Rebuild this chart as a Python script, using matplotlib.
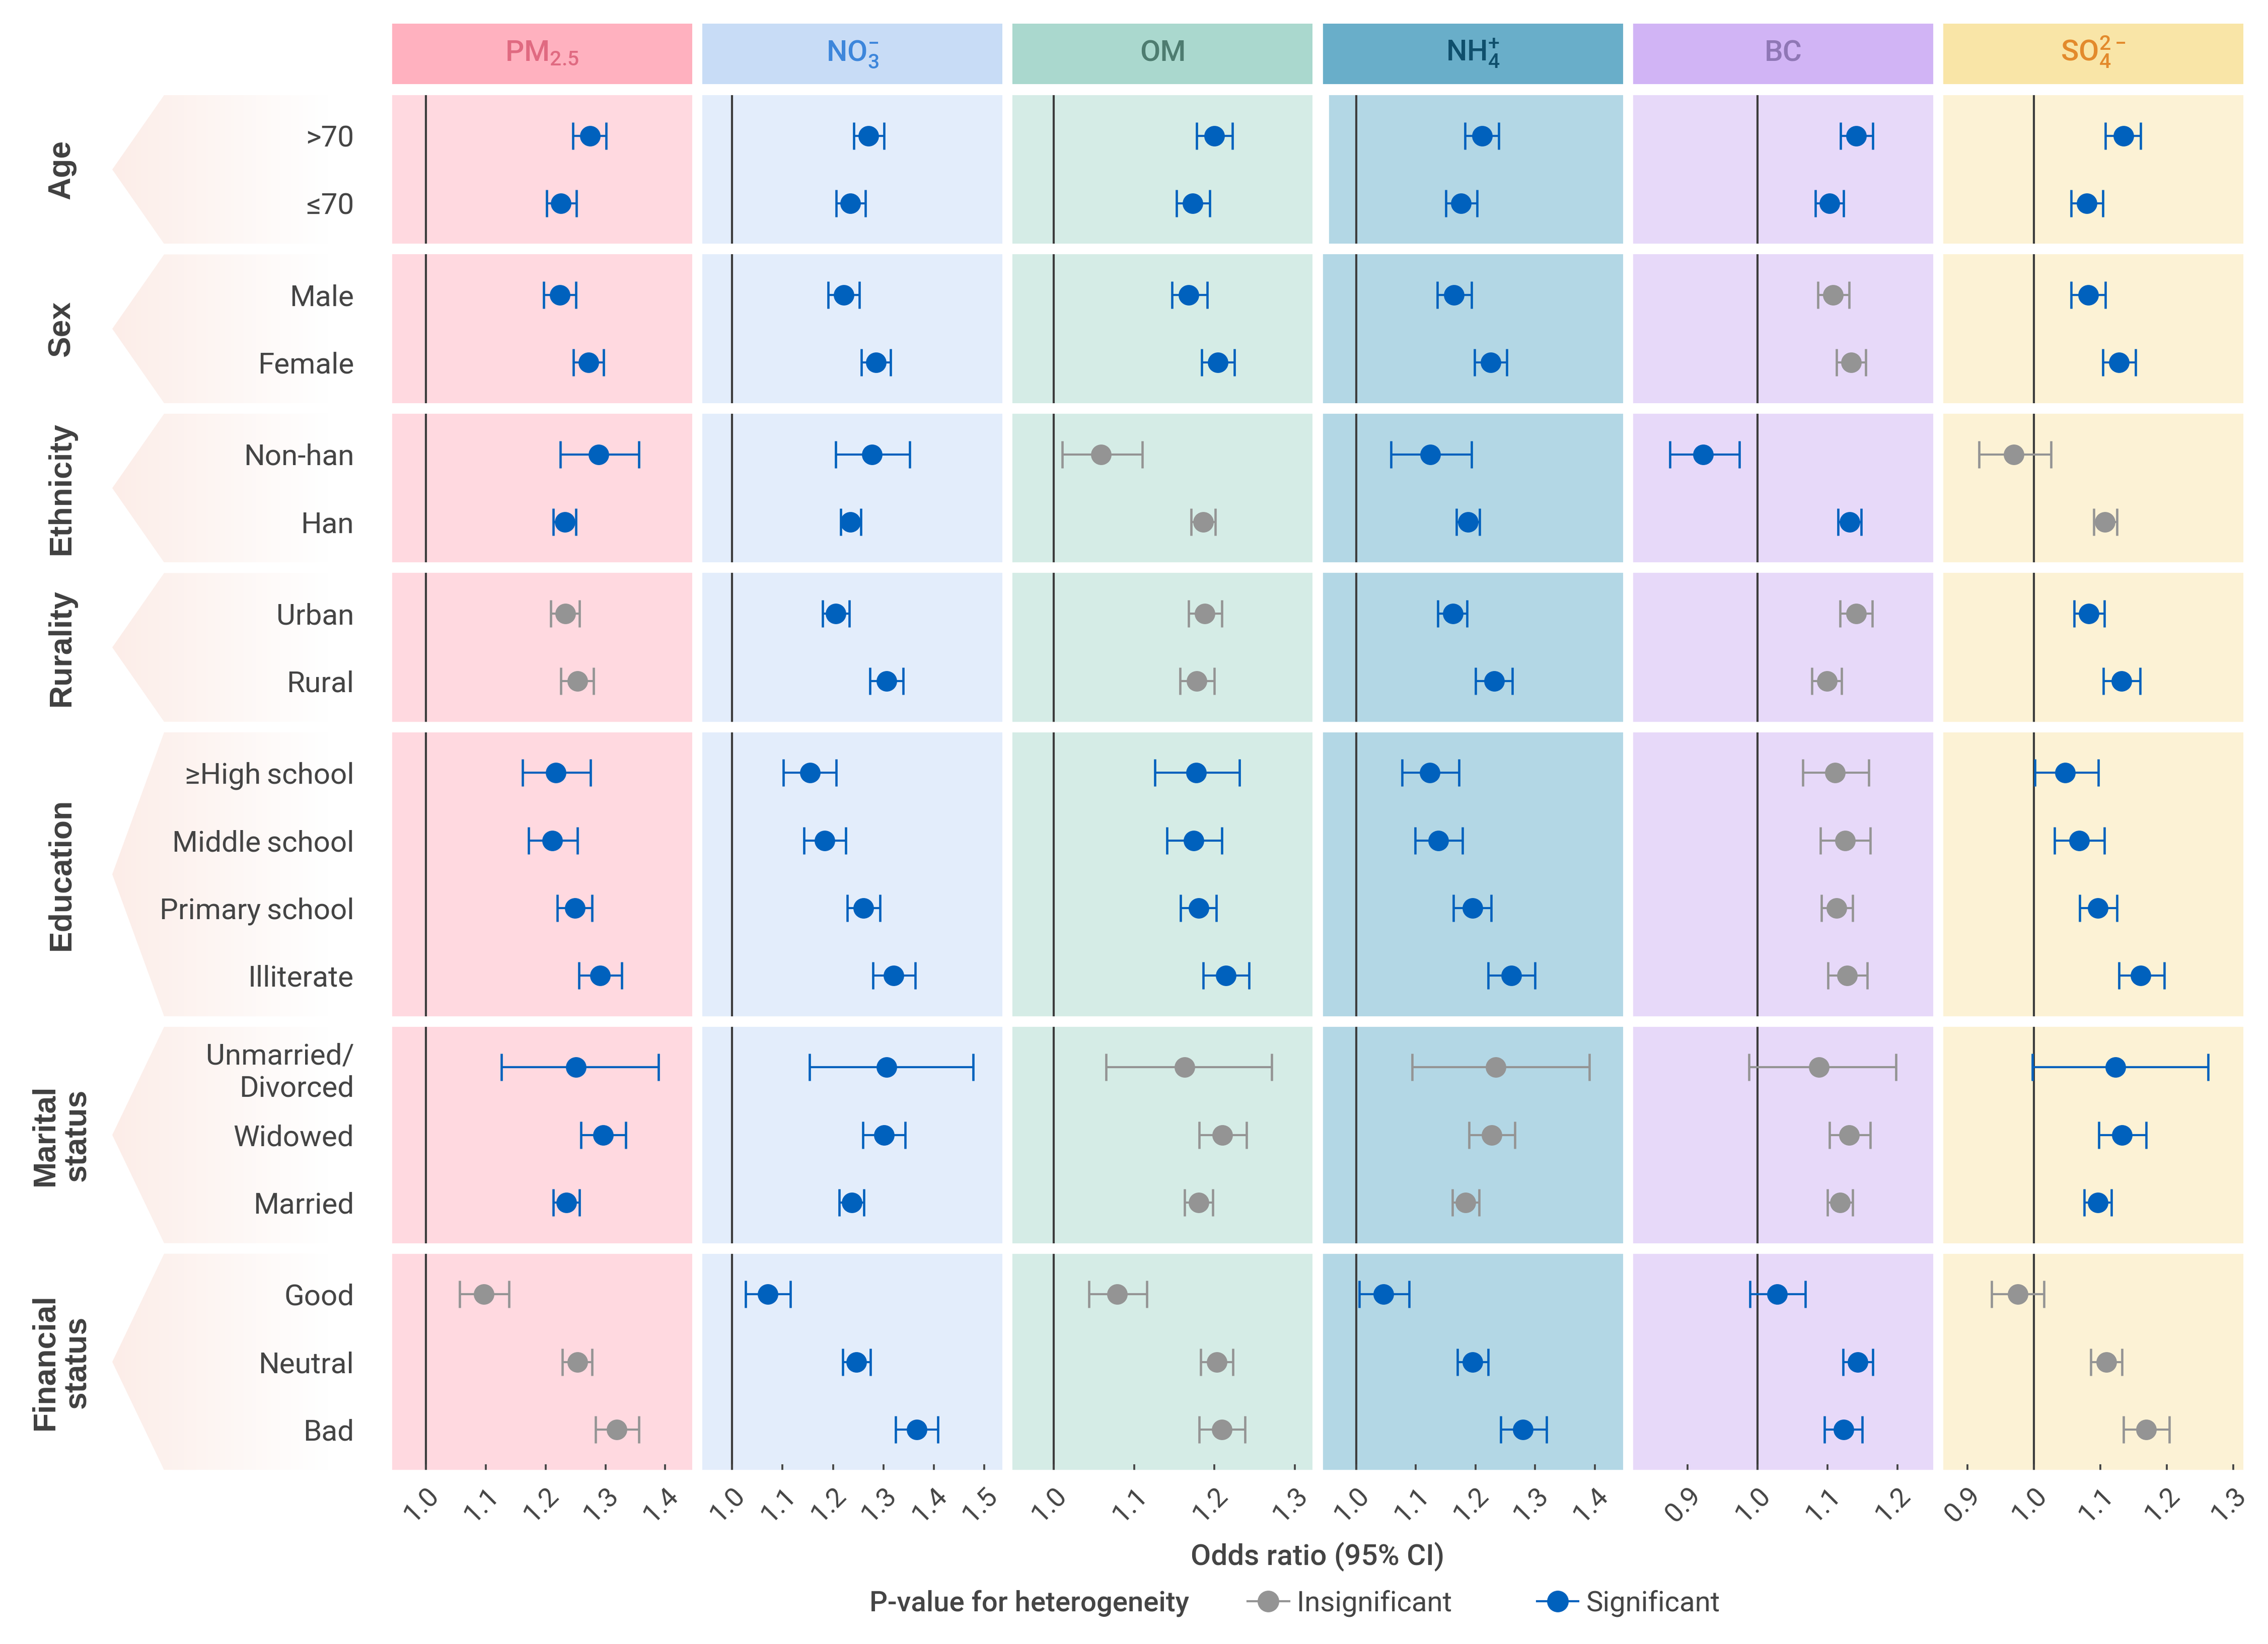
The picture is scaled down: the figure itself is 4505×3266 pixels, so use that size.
import numpy as np
import matplotlib
matplotlib.use('Agg')
import matplotlib.pyplot as plt
from matplotlib.lines import Line2D
from matplotlib.patches import Polygon, Rectangle
from matplotlib.colors import to_rgb

plt.rcParams['font.family'] = ['Roboto', 'DejaVu Sans']
plt.rcParams['mathtext.default'] = 'regular'

# ---- data -------------------------------------------------------------
groups = ['Age', 'Sex', 'Ethnicity', 'Rurality', 'Education',
          'Marital\nstatus', 'Financial\nstatus']
subgroups = [['>70', '≤70'],
             ['Male', 'Female'],
             ['Non-han', 'Han'],
             ['Urban', 'Rural'],
             ['≥High\u2009school', 'Middle\u2009school', 'Primary\u2009school', 'Illiterate'],
             ['Unmarried/\nDivorced', 'Widowed', 'Married'],
             ['Good', 'Neutral', 'Bad']]

pollutants = [r'PM$_{2.5}$', r'NO$_{3}^{-}$', 'OM', r'NH$_{4}^{+}$', 'BC', r'SO$_{4}^{2-}$']

pm25_or = [1.274, 1.226, 1.224, 1.272, 1.289, 1.232, 1.233, 1.253, 1.217, 1.211, 1.249, 1.291, 1.251, 1.296, 1.235, 1.097, 1.253, 1.319]
pm25_lo = [1.246, 1.202, 1.197, 1.247, 1.225, 1.213, 1.209, 1.226, 1.162, 1.172, 1.220, 1.256, 1.126, 1.259, 1.213, 1.057, 1.228, 1.284]
pm25_hi = [1.301, 1.252, 1.251, 1.297, 1.356, 1.251, 1.257, 1.280, 1.275, 1.253, 1.278, 1.327, 1.389, 1.334, 1.257, 1.139, 1.278, 1.356]
pm25_sig = [1, 1, 1, 1, 1, 1, 0, 0, 1, 1, 1, 1, 1, 1, 1, 0, 0, 0]

no3_or = [1.270, 1.234, 1.221, 1.285, 1.277, 1.234, 1.205, 1.306, 1.154, 1.183, 1.260, 1.320, 1.306, 1.301, 1.237, 1.071, 1.246, 1.366]
no3_lo = [1.241, 1.206, 1.190, 1.256, 1.205, 1.215, 1.179, 1.273, 1.102, 1.142, 1.228, 1.279, 1.153, 1.259, 1.212, 1.027, 1.219, 1.324]
no3_hi = [1.301, 1.264, 1.252, 1.314, 1.352, 1.255, 1.232, 1.339, 1.206, 1.225, 1.293, 1.363, 1.478, 1.343, 1.261, 1.116, 1.274, 1.408]
no3_sig = [1, 1, 1, 1, 1, 1, 1, 1, 1, 1, 1, 1, 1, 1, 1, 1, 1, 1]

om_or = [1.200, 1.173, 1.168, 1.204, 1.059, 1.186, 1.188, 1.178, 1.177, 1.174, 1.180, 1.214, 1.163, 1.210, 1.180, 1.079, 1.203, 1.209]
om_lo = [1.178, 1.153, 1.147, 1.184, 1.011, 1.171, 1.168, 1.157, 1.126, 1.141, 1.158, 1.186, 1.065, 1.181, 1.163, 1.044, 1.183, 1.181]
om_hi = [1.222, 1.194, 1.191, 1.225, 1.110, 1.201, 1.209, 1.200, 1.231, 1.209, 1.202, 1.243, 1.271, 1.240, 1.198, 1.116, 1.223, 1.238]
om_sig = [1, 1, 1, 1, 0, 0, 0, 0, 1, 1, 1, 1, 0, 0, 0, 0, 0, 0]

nh4_or = [1.211, 1.176, 1.164, 1.225, 1.124, 1.187, 1.162, 1.231, 1.123, 1.138, 1.195, 1.260, 1.234, 1.227, 1.183, 1.046, 1.195, 1.279]
nh4_lo = [1.182, 1.150, 1.136, 1.198, 1.058, 1.168, 1.137, 1.200, 1.077, 1.099, 1.163, 1.221, 1.094, 1.189, 1.161, 1.005, 1.170, 1.242]
nh4_hi = [1.239, 1.203, 1.193, 1.252, 1.193, 1.207, 1.186, 1.262, 1.172, 1.178, 1.226, 1.300, 1.391, 1.266, 1.206, 1.089, 1.221, 1.319]
nh4_sig = [1, 1, 1, 1, 1, 1, 1, 1, 1, 1, 1, 1, 0, 0, 0, 1, 1, 1]

bc_or = [1.141, 1.103, 1.108, 1.134, 0.922, 1.132, 1.141, 1.099, 1.111, 1.125, 1.113, 1.128, 1.088, 1.131, 1.118, 1.028, 1.143, 1.123]
bc_lo = [1.119, 1.083, 1.086, 1.113, 0.875, 1.115, 1.118, 1.078, 1.065, 1.090, 1.091, 1.101, 0.988, 1.103, 1.100, 0.989, 1.122, 1.096]
bc_hi = [1.165, 1.123, 1.131, 1.155, 0.974, 1.148, 1.164, 1.120, 1.159, 1.161, 1.136, 1.157, 1.198, 1.161, 1.136, 1.068, 1.165, 1.150]
bc_sig = [1, 1, 0, 0, 1, 1, 0, 0, 0, 0, 0, 0, 0, 0, 0, 1, 1, 1]

so4_or = [1.135, 1.080, 1.082, 1.128, 0.970, 1.107, 1.083, 1.132, 1.047, 1.068, 1.096, 1.161, 1.123, 1.133, 1.096, 0.976, 1.109, 1.169]
so4_lo = [1.108, 1.056, 1.056, 1.104, 0.918, 1.090, 1.061, 1.105, 1.002, 1.031, 1.069, 1.128, 0.998, 1.098, 1.076, 0.937, 1.086, 1.135]
so4_hi = [1.161, 1.104, 1.108, 1.153, 1.026, 1.125, 1.106, 1.160, 1.097, 1.106, 1.125, 1.196, 1.262, 1.169, 1.117, 1.015, 1.133, 1.204]
so4_sig = [1, 1, 1, 1, 0, 0, 1, 1, 1, 1, 1, 1, 1, 1, 1, 0, 0, 0]

x_ticks = [[1.0, 1.1, 1.2, 1.3, 1.4],
           [1.0, 1.1, 1.2, 1.3, 1.4, 1.5],
           [1.0, 1.1, 1.2, 1.3],
           [1.0, 1.1, 1.2, 1.3, 1.4],
           [0.9, 1.0, 1.1, 1.2],
           [0.9, 1.0, 1.1, 1.2, 1.3]]
x_limits = [(0.944, 1.445), (0.941, 1.536), (0.949, 1.322),
            (0.944, 1.447), (0.822, 1.251), (0.864, 1.315)]

# ---- style ------------------------------------------------------------
head_colors = ['#FFB1BF', '#C8DCF6', '#AAD8CE', '#69AEC9', '#D1B4F5', '#F9E5A7']
panel_colors = ['#FFD9E0', '#E3EDFB', '#D5ECE6', '#B3D7E5', '#E7D9F9', '#FCF2D5']
title_colors = ['#E06A81', '#3D86DB', '#4E7C70', '#0F4F6C', '#8F77B5', '#E38A2C']
blue = '#0061BD'
grey = '#949494'
dark = '#444444'

series = [(pm25_or, pm25_lo, pm25_hi, pm25_sig),
          (no3_or, no3_lo, no3_hi, no3_sig),
          (om_or, om_lo, om_hi, om_sig),
          (nh4_or, nh4_lo, nh4_hi, nh4_sig),
          (bc_or, bc_lo, bc_hi, bc_sig),
          (so4_or, so4_lo, so4_hi, so4_sig)]

W, H = 4505, 3266
fig = plt.figure(figsize=(W / 300, H / 300), dpi=300)

# overlay in pixel coords for the chevrons
bg = fig.add_axes([0, 0, 1, 1], zorder=0)
bg.axis('off')


def px_axes(x0, y0, x1, y1):
    return fig.add_axes([x0 / W, 1 - y1 / H, (x1 - x0) / W, (y1 - y0) / H], zorder=1)


col_left = [779 + 616.2 * i for i in range(6)]
col_w = 596
unit, gap, top0 = 134.3, 21, 189

# row extents
row_top = []
row_bot = []
y = top0
for subs in subgroups:
    h = (len(subs) + 0.2) * unit
    row_top.append(y)
    row_bot.append(y + h)
    y += h + gap

# header strips
for c in range(6):
    hax = px_axes(col_left[c], 47, col_left[c] + col_w, 167)
    hax.set_facecolor(head_colors[c])
    hax.set_xticks([])
    hax.set_yticks([])
    for s in hax.spines.values():
        s.set_visible(False)
    hax.text(0.5, 0.383, pollutants[c], transform=hax.transAxes, ha='center', va='baseline',
             fontsize=14, fontweight='medium', color=title_colors[c])

# chevrons with a fading gradient
c0 = np.array(to_rgb('#FCEDE8'))
xs = np.linspace(223, 780, 300)
t = np.clip((xs - 223) / (650 - 223), 0, 1)[:, None]
grad = (c0 * (1 - t) + np.ones(3) * t)[None, :, :]
for r in range(len(groups)):
    yt, yb = row_top[r], row_bot[r]
    ym = (yt + yb) / 2
    pts = [(223, ym), (326, yt), (780, yt), (780, yb), (326, yb)]
    poly = Polygon(pts, closed=True, facecolor='none', edgecolor='none', transform=bg.transData)
    bg.add_patch(poly)
    im = bg.imshow(grad, extent=(223, 780, yb, yt), aspect='auto', interpolation='bilinear')
    im.set_clip_path(poly)
    fig.text(122 / W, 1 - ym / H, groups[r], rotation=90, ha='center', va='center',
             family='Liberation Sans', fontweight='bold', fontsize=15, color='#404040',
             linespacing=1.1, multialignment='center')
bg.set_xlim(0, W)
bg.set_ylim(H, 0)

# panels
start = 0
for r, subs in enumerate(subgroups):
    n = len(subs)
    ys = np.arange(n)[::-1]
    for c in range(6):
        ax = px_axes(col_left[c], row_top[r], col_left[c] + col_w, row_bot[r])
        ax.set_facecolor(panel_colors[c])
        for s in ax.spines.values():
            s.set_visible(False)
        if c == 3 and r == 0:
            ax.add_patch(Rectangle((0, 0), 12 / col_w, 1, transform=ax.transAxes,
                                   facecolor='white', edgecolor='none', zorder=0.5))
        ax.axvline(1.0, color='#3d3d3d', lw=1.0, zorder=1)
        o, lo, hi, sig = [np.array(a[start:start + n]) for a in series[c]]
        for flag, col in ((0, grey), (1, blue)):
            m = sig == flag
            if m.any():
                ax.errorbar(o[m], ys[m], xerr=[o[m] - lo[m], hi[m] - o[m]], fmt='none',
                            ecolor=col, elinewidth=1.0, capsize=6.5, capthick=1.1, zorder=3)
                ax.plot(o[m], ys[m], 'o', color=col, ms=9.8, mew=0, zorder=4)
        ax.set_xlim(*x_limits[c])
        ax.set_ylim(-0.6, n - 0.4)
        if c == 0:
            ax.set_yticks(ys, subs)
            ax.tick_params(axis='y', length=0, pad=18.2, labelsize=14, labelcolor=dark)
        else:
            ax.set_yticks([])
        if r == len(subgroups) - 1:
            ax.set_xticks(x_ticks[c], ['%.1f' % v for v in x_ticks[c]])
            ax.tick_params(axis='x', direction='in', length=2.6, width=0.9, color=dark,
                           pad=6.0, labelsize=13, labelcolor=dark)
            plt.setp(ax.get_xticklabels(), rotation=45, ha='right', va='top',
                     rotation_mode='anchor')
        else:
            ax.set_xticks([])
    start += n

# axis title and legend
fig.text(2617 / W, 1 - 3093 / H, 'Odds ratio (95% CI)', ha='center', va='center',
         fontsize=14, fontweight='medium', color=dark)
fig.text(2362 / W, 1 - 3185 / H, 'P-value for heterogeneity', ha='right', va='center',
         fontsize=13.5, fontweight='medium', color=dark)
handles = [Line2D([], [], color=grey, marker='o', ms=10.3, mew=0, lw=1.0),
           Line2D([], [], color=blue, marker='o', ms=10.3, mew=0, lw=1.0)]
fig.legend(handles, ['Insignificant', 'Significant'], loc='center left',
           bbox_to_anchor=(2478 / W, 1 - 3185 / H), ncol=2, frameon=False,
           fontsize=13.5, handlelength=1.47, handletextpad=0.27, columnspacing=3.0,
           borderpad=0, borderaxespad=0, labelcolor=dark)

fig.savefig('out.png', dpi=300, facecolor='white')
